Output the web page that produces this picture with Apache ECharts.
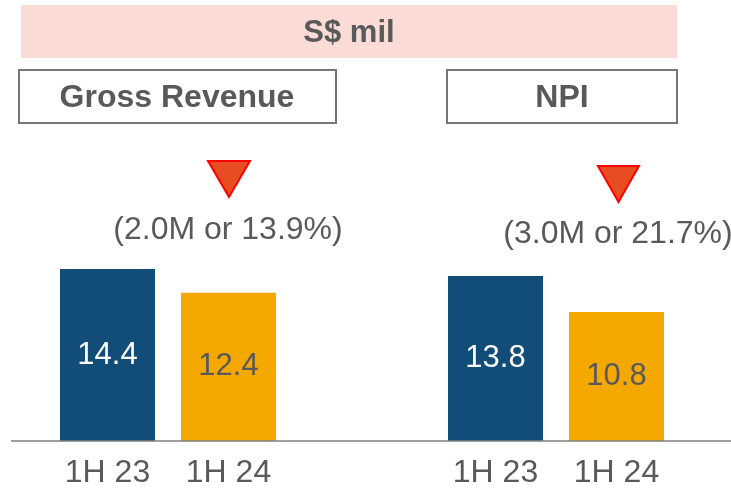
<!DOCTYPE html>
<html lang="en">
<head>
  <meta charset="UTF-8">
  <title>Gross Revenue / NPI</title>
  <script src="https://cdn.jsdelivr.net/npm/echarts@6/dist/echarts.min.js"></script>
  <style>
    html, body { margin: 0; padding: 0; background: #fff; }
  </style>
</head>
<body>
  <div id="main" style="width:731px;height:491px;"></div>
  <script>
    // data
    var unitTitle = 'S$ mil';
    var periods = ['1H 23', '1H 24'];
    var grossRevenue = [14.4, 12.4];
    var npi = [13.8, 10.8];
    var panelTitles = ['Gross Revenue', 'NPI'];
    var changeNotes = ['(2.0M or 13.9%)', '(3.0M or 21.7%)'];

    var FONT = '"Liberation Sans", Arial, sans-serif';
    var TXT = '#595959';
    var barColors = ['#114d78', '#f5a800'];
    var labelColors = ['#ffffff', TXT];

    function barData(vals) {
      return vals.map(function (v, i) {
        return {
          value: v,
          itemStyle: { color: barColors[i] },
          label: { color: labelColors[i] }
        };
      });
    }

    function xAxisFor(idx) {
      return {
        type: 'category', gridIndex: idx, data: periods,
        axisLine: { show: false }, axisTick: { show: false },
        axisLabel: { color: TXT, fontSize: 32, fontFamily: FONT, margin: 16 }
      };
    }
    function yAxisFor(idx) {
      return { type: 'value', gridIndex: idx, min: 0, max: 20, show: false, splitLine: { show: false } };
    }
    function barSeries(idx, vals) {
      return {
        type: 'bar', xAxisIndex: idx, yAxisIndex: idx,
        barWidth: 95, data: barData(vals),
        label: { show: true, position: 'inside', fontSize: 31, fontFamily: FONT,
                 formatter: function (p) { return p.value.toFixed(1); } }
      };
    }

    var chart = echarts.init(document.getElementById('main'));
    chart.setOption({
      animation: false,
      grid: [
        { left: 47, width: 242, top: 202, height: 239 },
        { left: 435, width: 242, top: 202, height: 239 }
      ],
      xAxis: [xAxisFor(0), xAxisFor(1)],
      yAxis: [yAxisFor(0), yAxisFor(1)],
      series: [barSeries(0, grossRevenue), barSeries(1, npi)],
      graphic: [
        // unit band
        { type: 'rect', shape: { x: 21, y: 5, width: 656, height: 53 }, style: { fill: '#fadbd6' } },
        { type: 'text', x: 349, y: 33, style: { text: unitTitle, fill: TXT, font: 'bold 31px ' + FONT, align: 'center', verticalAlign: 'middle' } },
        // panel title boxes
        { type: 'rect', shape: { x: 19, y: 70, width: 317, height: 53 }, style: { fill: '#fff', stroke: '#767676', lineWidth: 2 } },
        { type: 'text', x: 177, y: 98, style: { text: panelTitles[0], fill: TXT, font: 'bold 32px ' + FONT, align: 'center', verticalAlign: 'middle' } },
        { type: 'rect', shape: { x: 447, y: 70, width: 230, height: 53 }, style: { fill: '#fff', stroke: '#767676', lineWidth: 2 } },
        { type: 'text', x: 562, y: 98, style: { text: panelTitles[1], fill: TXT, font: 'bold 32px ' + FONT, align: 'center', verticalAlign: 'middle' } },
        // decline markers
        { type: 'polygon', shape: { points: [[208, 161], [250, 161], [229, 197]] }, style: { fill: '#e84c22', stroke: '#ff0000', lineWidth: 2 } },
        { type: 'text', x: 228, y: 230, style: { text: changeNotes[0], fill: TXT, font: '32px ' + FONT, align: 'center', verticalAlign: 'middle' } },
        { type: 'polygon', shape: { points: [[598, 166], [639, 166], [618.5, 202]] }, style: { fill: '#e84c22', stroke: '#ff0000', lineWidth: 2 } },
        { type: 'text', x: 618, y: 234, style: { text: changeNotes[1], fill: TXT, font: '32px ' + FONT, align: 'center', verticalAlign: 'middle' } },
        // baseline
        { type: 'line', shape: { x1: 11, y1: 441, x2: 731, y2: 441 }, style: { stroke: '#7f7f7f', lineWidth: 1.5 }, z: 10 }
      ]
    });
  </script>
</body>
</html>
